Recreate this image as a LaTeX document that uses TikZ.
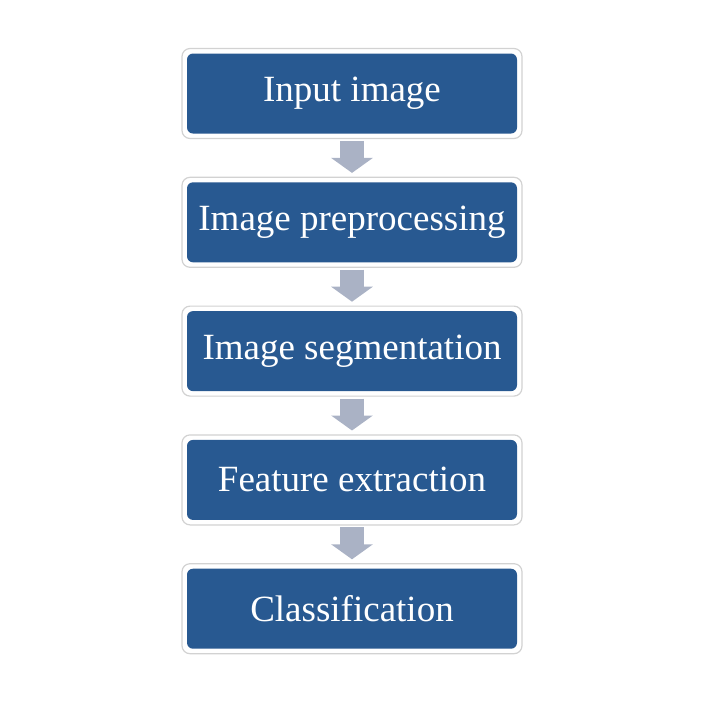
\documentclass[tikz,border=0pt]{standalone}
\usepackage{fontspec}
\setmainfont{Liberation Serif}
\usepackage{xcolor}
\usepackage{tikz}
\definecolor{stageblue}{RGB}{40, 89, 145}
\definecolor{arrowgray}{RGB}{170, 178, 197}
\usetikzlibrary{arrows.meta, positioning, fit, backgrounds}

\begin{document}
\begin{tikzpicture}[
    node distance=24pt,
    stage/.style={rectangle, rounded corners=3pt, fill=stageblue, text=white, minimum width=165pt, minimum height=40pt, inner sep=0pt, font=\fontsize{18.5}{22}\selectfont},
    frame/.style={rectangle, rounded corners=4pt, draw=gray!35, line width=0.6pt, fill=white, inner sep=2.3pt},
    flow/.style={arrowgray, line width=12pt, -{Triangle[width=20.5pt, length=7.5pt]}, shorten <=3.5pt, shorten >=4.5pt}
]
    \useasboundingbox (0,0) rectangle (351pt,-357pt);

    % Stages
    \node[stage] (input) at (176pt,-46.75pt) {Input image};
    \node[stage, below=of input] (prep) {Image preprocessing};
    \node[stage, below=of prep] (seg) {Image segmentation};
    \node[stage, below=of seg] (feat) {Feature extraction};
    \node[stage, below=of feat] (class) {Classification};

    % Frames
    \begin{scope}[on background layer]
        \foreach \s in {input, prep, seg, feat, class}
            \node[frame, fit=(\s)] (\s-frame) {};
    \end{scope}

    % Arrows
    \draw[flow] (input) -- (prep);
    \draw[flow] (prep) -- (seg);
    \draw[flow] (seg) -- (feat);
    \draw[flow] (feat) -- (class);
\end{tikzpicture}
\end{document}
